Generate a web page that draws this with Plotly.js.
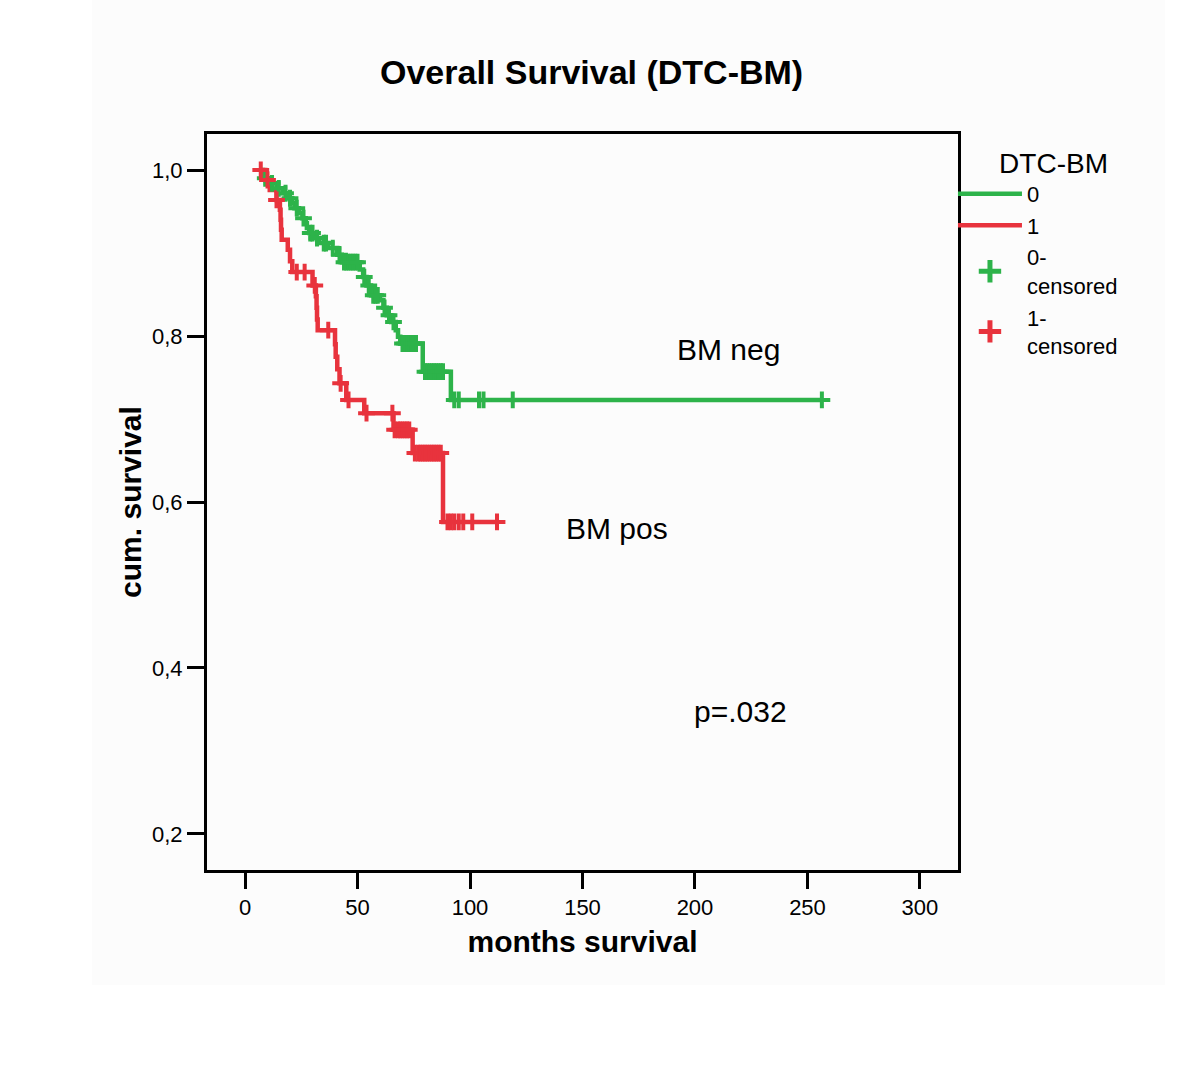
<!DOCTYPE html>
<html>
<head>
<meta charset="utf-8">
<script src="https://cdn.plot.ly/plotly-3.0.1.min.js"></script>
<style>html,body{margin:0;padding:0;background:#fff;}#chart{width:1200px;height:1082px;}</style>
</head>
<body>
<div id="chart"></div>
<script>
// Kaplan-Meier step data
const greenTimes = [7, 8, 11, 14, 17, 19, 21, 22, 24, 25.5, 27, 27.5, 28.5, 31, 33, 37, 41, 43, 51, 52.5, 54, 56, 60, 61.5, 63, 65, 67, 68, 69, 79, 91.5];
const greenSurv  = [1.0, 0.99, 0.984, 0.978, 0.972, 0.966, 0.96, 0.954, 0.948, 0.942, 0.936, 0.93, 0.924, 0.918, 0.912, 0.906, 0.898, 0.889, 0.88, 0.871, 0.861, 0.849, 0.843, 0.834, 0.825, 0.817, 0.807, 0.799, 0.791, 0.757, 0.723];
const greenEnd = 256.4;
const greenCensored = [9, 12, 15, 18, 20, 23, 26, 29, 30, 32, 35, 36, 39, 42, 44, 45, 46, 47, 48, 49, 50, 53, 55, 57, 58, 59, 62, 64, 66, 70, 71, 72, 73, 74, 75, 76, 80, 81, 82, 83, 84, 85, 86, 87, 88, 93, 95, 104, 106, 119, 256.4];

const redTimes = [7, 9, 11, 14, 15.5, 15.8, 16, 16.3, 19, 20, 21, 30, 31.5, 31.8, 32, 32.3, 40, 40.3, 41, 42, 45, 53, 66, 74.5, 88];
const redSurv  = [1.0, 0.988, 0.976, 0.964, 0.952, 0.94, 0.928, 0.916, 0.904, 0.89, 0.877, 0.861, 0.848, 0.834, 0.82, 0.807, 0.79, 0.775, 0.76, 0.743, 0.723, 0.707, 0.687, 0.659, 0.576];
const redEnd = 112;
const redCensored = [7, 10, 14, 23, 26.5, 31, 37, 42.5, 46, 54, 65.5, 66.5, 68, 69, 70, 71, 72, 73, 75.5, 77, 78, 79, 80, 81, 82, 83, 84, 85, 86, 87, 90, 91.5, 93, 95, 97, 101, 112];

const xTicks = [0, 50, 100, 150, 200, 250, 300];
const yTicks = [0.2, 0.4, 0.6, 0.8, 1.0];
const yTickText = ['0,2', '0,4', '0,6', '0,8', '1,0'];

const legendTitle = 'DTC-BM';
const groupNames = ['0', '1', '0-<br>censored', '1-<br>censored'];
const labels = [
  {text: 'BM neg', x: 214.7, y: 0.784},
  {text: 'BM pos', x: 165.3, y: 0.5675},
  {text: 'p=.032', x: 220.4, y: 0.347}
];

const GREEN = '#2db34a';
const RED = '#e8333d';
const FONT = 'Liberation Sans, Arial, Helvetica, sans-serif';

function stepValue(times, surv, t) {
  let v = surv[0];
  for (let i = 0; i < times.length; i++) { if (times[i] <= t) v = surv[i]; }
  return v;
}

function lineTrace(times, surv, end, color, name) {
  return {
    x: times.concat([end]), y: surv.concat([surv[surv.length - 1]]),
    type: 'scatter', mode: 'lines', line: {shape: 'hv', color: color, width: 4.5},
    name: name, showlegend: true, hoverinfo: 'skip'
  };
}
function censTrace(cens, times, surv, color) {
  return {
    x: cens, y: cens.map(t => stepValue(times, surv, t)),
    type: 'scatter', mode: 'markers', showlegend: false,
    marker: {symbol: 'cross-thin', size: 12, color: color, line: {color: color, width: 4}},
    hoverinfo: 'skip'
  };
}
function legendMarker(color, name) {
  return {
    x: [null], y: [null], type: 'scatter', mode: 'markers', name: name,
    marker: {symbol: 'cross-thin', size: 16, color: color, line: {color: color, width: 5}}
  };
}

const data = [
  lineTrace(greenTimes, greenSurv, greenEnd, GREEN, groupNames[0]),
  lineTrace(redTimes, redSurv, redEnd, RED, groupNames[1]),
  censTrace(greenCensored, greenTimes, greenSurv, GREEN),
  censTrace(redCensored, redTimes, redSurv, RED),
  legendMarker(GREEN, groupNames[2]),
  legendMarker(RED, groupNames[3])
];

const layout = {
  width: 1200, height: 1082,
  margin: {l: 207, r: 242, t: 134, b: 212},
  paper_bgcolor: '#ffffff', plot_bgcolor: '#ffffff',
  font: {family: FONT, color: '#000', size: 22},
  title: {text: 'Overall Survival (DTC-BM)', font: {family: FONT, size: 34, weight: 'bold', color: '#000'},
          xref: 'container', yref: 'container', x: 0.493, y: 1 - 72 / 1082, xanchor: 'center', yanchor: 'middle'},
  xaxis: {
    range: [-16.9, 316.9], tickvals: xTicks, ticks: 'outside', ticklen: 16, tickwidth: 3, tickcolor: '#000',
    showline: true, linewidth: 3, linecolor: '#000', mirror: true, showgrid: false, zeroline: false,
    tickfont: {size: 22, family: FONT},
    title: {text: 'months survival', font: {size: 30, weight: 'bold', family: FONT}, standoff: 12}
  },
  yaxis: {
    range: [0.1566, 1.0434], tickvals: yTicks, ticktext: yTickText, ticks: 'outside', ticklen: 17, tickwidth: 3, tickcolor: '#000',
    showline: true, linewidth: 3, linecolor: '#000', mirror: true, showgrid: false, zeroline: false,
    tickfont: {size: 22, family: FONT},
    title: {text: 'cum. survival', font: {size: 30, weight: 'bold', family: FONT}, standoff: 2}
  },
  legend: {
    x: 0.9933, xanchor: 'left', y: 0.9966, yanchor: 'top',
    bgcolor: 'rgba(0,0,0,0)', font: {size: 22, family: FONT},
    title: {text: '&nbsp;&nbsp;&nbsp;&nbsp;' + legendTitle, font: {size: 28, family: FONT}, side: 'top center'},
    itemwidth: 64, tracegroupgap: 0
  },
  shapes: [{type: 'rect', xref: 'paper', yref: 'paper', x0: -0.1531, x1: 1.2756, y0: -0.15625, y1: 1.182,
            fillcolor: '#fcfcfc', line: {width: 0}, layer: 'below'}],
  annotations: labels.map(l => ({x: l.x, y: l.y, xref: 'x', yref: 'y', text: l.text, showarrow: false,
                                  font: {size: 30, family: FONT, color: '#000'}}))
};

Plotly.newPlot('chart', data, layout, {displayModeBar: false, staticPlot: true});
</script>
</body>
</html>
